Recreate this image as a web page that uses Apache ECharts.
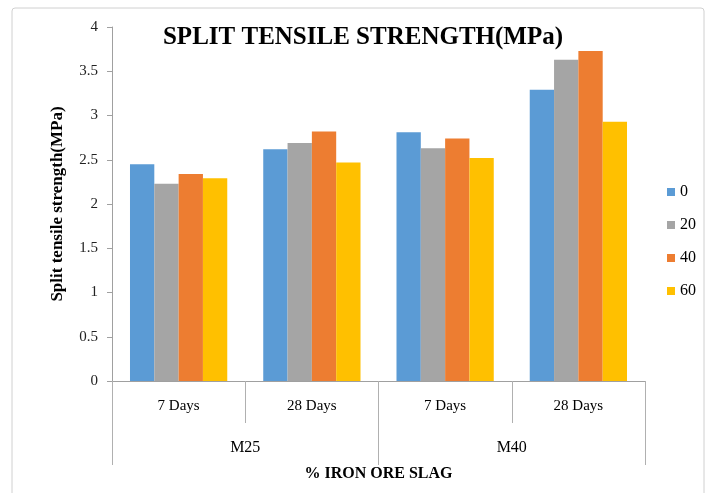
<!DOCTYPE html>
<html><head><meta charset="utf-8">
<script src="https://cdn.jsdelivr.net/npm/echarts@6/dist/echarts.min.js"></script>
<style>html,body{margin:0;padding:0;background:#fff}#c{width:711px;height:493px}</style>
</head><body><div id="c"></div>
<script>
const dayLabels = ['7 Days', '28 Days', '7 Days', '28 Days'];
const gradeLabels = ['M25', 'M40'];
const seriesNames = ['0', '20', '40', '60'];
const s0 = [2.45, 2.62, 2.81, 3.29];
const s20 = [2.23, 2.69, 2.63, 3.63];
const s40 = [2.34, 2.82, 2.74, 3.73];
const s60 = [2.29, 2.47, 2.52, 2.93];
const colors = ['#5B9BD5', '#A5A5A5', '#ED7D31', '#FFC000'];
const values = [s0, s20, s40, s60];
const font = 'Liberation Serif';

const chart = echarts.init(document.getElementById('c'));
chart.setOption({
  animation: false,
  textStyle: { fontFamily: font },
  graphic: [{
    type: 'rect', shape: { x: 12, y: 8, width: 692, height: 500, r: 3 },
    style: { fill: 'none', stroke: '#d0d0d0', lineWidth: 1 }, z: -1
  }],
  title: {
    text: 'SPLIT TENSILE STRENGTH(MPa)', left: 358, top: 20, textAlign: 'center',
    textStyle: { fontFamily: font, fontSize: 25, fontWeight: 'bold', color: '#000' }
  },
  legend: {
    orient: 'vertical', left: 662, top: 179, itemWidth: 8, itemHeight: 8, itemGap: 17,
    icon: 'rect',
    textStyle: { fontFamily: font, fontSize: 16, color: '#000' },
    data: seriesNames
  },
  grid: { left: 112, right: 66, top: 27, bottom: 112 },
  xAxis: [{
    type: 'category', data: dayLabels, position: 'bottom',
    axisLine: { show: true, lineStyle: { color: '#a0a0a0' } },
    axisTick: { show: true, length: 42, lineStyle: { color: '#b0b0b0' } },
    axisLabel: { show: true, margin: 18, fontFamily: font, fontSize: 15, color: '#000' }
  }, {
    type: 'category', data: gradeLabels, position: 'bottom', offset: 42,
    axisLine: { show: false },
    axisTick: { show: true, length: 42, lineStyle: { color: '#b0b0b0' } },
    axisLabel: { show: true, margin: 17, fontFamily: font, fontSize: 16, color: '#000' },
    name: '% IRON ORE SLAG', nameLocation: 'middle', nameGap: 43,
    nameTextStyle: { fontFamily: font, fontSize: 16, fontWeight: 'bold', color: '#000' }
  }],
  yAxis: {
    type: 'value', min: 0, max: 4, interval: 0.5,
    axisLine: { show: true, lineStyle: { color: '#a0a0a0' } },
    axisTick: { show: true, length: 5, lineStyle: { color: '#a0a0a0' } },
    splitLine: { show: false },
    axisLabel: { fontFamily: font, fontSize: 15, color: '#222', margin: 14 },
    name: 'Split tensile strength(MPa)', nameLocation: 'middle', nameGap: 46,
    nameTextStyle: { fontFamily: font, fontSize: 17, fontWeight: 'bold', color: '#000' }
  },
  series: seriesNames.map((n, i) => ({
    name: n, type: 'bar', xAxisIndex: 0, data: values[i],
    barGap: '0%', barCategoryGap: '27%',
    itemStyle: { color: colors[i] }
  }))
});
</script></body></html>
